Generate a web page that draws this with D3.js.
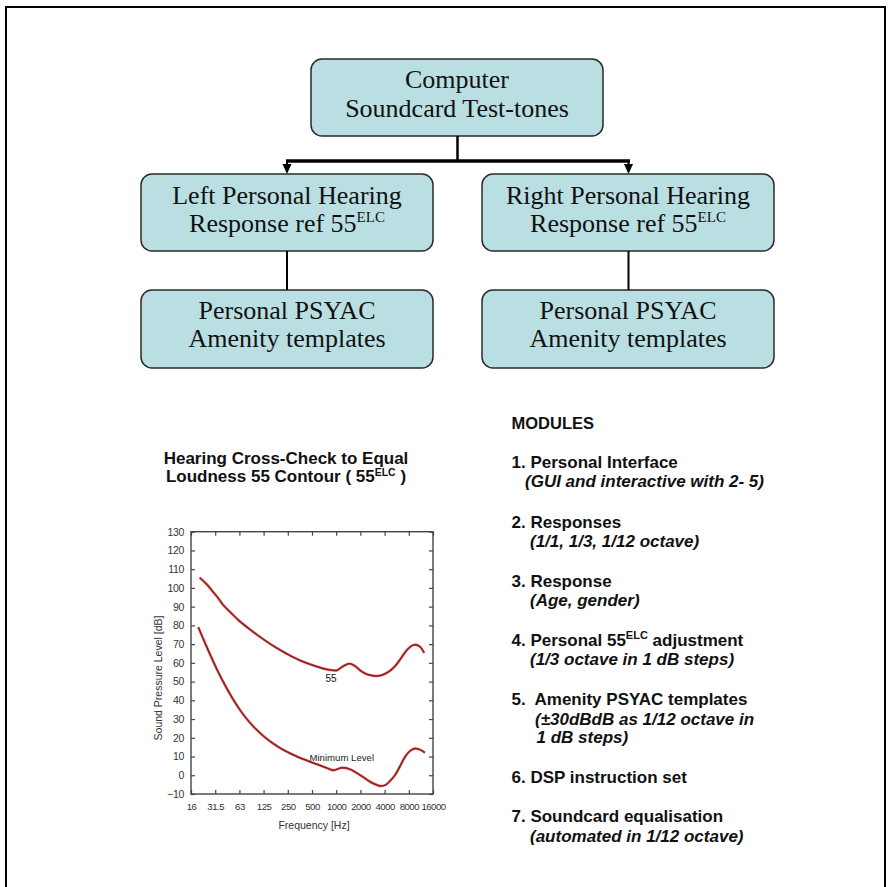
<!DOCTYPE html>
<html><head><meta charset="utf-8">
<script src="https://cdn.jsdelivr.net/npm/d3@7"></script>
<style>body{margin:0;background:#fff}svg{display:block}</style>
</head><body>
<script>
// ---------- data ----------
const topBoxLines = ["Computer", "Soundcard Test-tones"];
const midBoxLines = [["Left Personal Hearing", "Response ref 55"], ["Right Personal Hearing", "Response ref 55"]];
const midBoxSup = "ELC";
const lowBoxLines = ["Personal PSYAC", "Amenity templates"];

const chartTitle = ["Hearing Cross-Check to Equal", "Loudness 55 Contour ( 55", "ELC", " )"];
const yTicks = [130,120,110,100,90,80,70,60,50,40,30,20,10,0,-10];
const xTickHz = [16,32,64,128,256,512,1024,2048,4096,8192,16384];
const xTickLabels = ["16","31.5","63","125","250","500","1000","2000","4000","8000","16000"];
const xTitle = "Frequency [Hz]";
const yTitle = "Sound Pressure Level [dB]";

const contour55Hz = [20.5,25,30,35,40,50,63,90,125,180,250,350,500,700,942,1050,1250,1500,1750,2100,2500,3100,3800,4700,5600,6800,8000,9500,11000,12000,12700];
const contour55dB = [105.5,102,98,94.5,91,86.8,82.6,77.3,72.8,68.3,64.8,61.6,59,57,56,56,58.2,59.6,58.3,55.5,53.8,53,53.5,55.5,58.5,63.5,67.5,69.6,69,67.2,65.3];
const minLevelHz = [19.7,24,29,35,43,53,66,82,103,130,165,210,270,350,460,620,800,950,1200,1500,2000,2500,3000,3600,4200,4800,5600,6400,7400,8500,9800,11500,13000];
const minLevelDB = [79,70.5,62.5,55,47.6,40.8,34.5,29.2,24.6,20.6,17.2,14.3,11.8,9.6,7.6,5.5,3.7,2.7,4,3.3,0.3,-2.5,-4.5,-5.7,-5.2,-3,0.5,5,10,13,14.3,13.5,12];
const curveLabels = ["55", "Minimum Level"];

const modulesTitle = "MODULES";
const moduleHeads = [["1. Personal Interface"],["2. Responses"],["3. Response"],["4. Personal 55","ELC"," adjustment"],["5.  Amenity PSYAC templates"],["6. DSP instruction set"],["7. Soundcard equalisation"]];
const moduleNotes = [["(GUI and interactive with 2- 5)"],["(1/1, 1/3, 1/12 octave)"],["(Age, gender)"],["(1/3 octave in 1 dB steps)"],["(\u00B130dBdB as 1/12 octave in","1 dB steps)"],[],["(automated in 1/12 octave)"]];

// ---------- drawing ----------
const W = 894, H = 887;
const svg = d3.select("body").append("svg").attr("width", W).attr("height", H);
const serif = "'Liberation Serif','Times New Roman',serif";
const sans = "'Liberation Sans',Arial,sans-serif";

// outer frame
svg.append("path").attr("d", `M6,${H} V7 H885 V${H}`).attr("fill","none").attr("stroke","#000").attr("stroke-width",2);

// flow boxes
const boxFill = "#b9dfe3", boxStroke = "#2a2a2a";
function box(x, y, w, h) {
  svg.append("rect").attr("x",x).attr("y",y).attr("width",w).attr("height",h)
    .attr("rx",11).attr("fill",boxFill).attr("stroke",boxStroke).attr("stroke-width",1.5);
}
box(311, 59, 292, 77);
box(141, 174, 292, 77);
box(482, 174, 292, 77);
box(141, 290, 292, 78);
box(482, 290, 292, 78);

// connectors
svg.append("line").attr("x1",457.5).attr("x2",457.5).attr("y1",136).attr("y2",161).attr("stroke","#000").attr("stroke-width",2.5);
svg.append("line").attr("x1",286).attr("x2",630).attr("y1",161).attr("y2",161).attr("stroke","#000").attr("stroke-width",3.5);
[287, 628.5].forEach(cx => {
  svg.append("line").attr("x1",cx).attr("x2",cx).attr("y1",161).attr("y2",166).attr("stroke","#000").attr("stroke-width",2);
  svg.append("path").attr("d",`M${cx-4.5},164 L${cx+4.5},164 L${cx},174 Z`).attr("fill","#000");
  svg.append("line").attr("x1",cx).attr("x2",cx).attr("y1",251).attr("y2",290).attr("stroke","#000").attr("stroke-width",2);
});

function boxText(cx, y, str, sup) {
  const t = svg.append("text").attr("x",cx).attr("y",y).attr("text-anchor","middle")
    .attr("font-family",serif).attr("font-size",26).attr("fill","#111");
  t.append("tspan").text(str);
  if (sup) t.append("tspan").attr("font-size",15).attr("dy",-10).text(sup);
}
boxText(457, 88, topBoxLines[0]);
boxText(457, 117, topBoxLines[1]);
[287, 628].forEach((cx, i) => {
  boxText(cx, 203.5, midBoxLines[i][0]);
  boxText(cx, 232, midBoxLines[i][1], midBoxSup);
  boxText(cx, 318.5, lowBoxLines[0]);
  boxText(cx, 347, lowBoxLines[1]);
});

// chart title
svg.append("text").attr("x",286).attr("y",463.5).attr("text-anchor","middle")
  .attr("font-family",sans).attr("font-weight","bold").attr("font-size",17).attr("fill","#111").text(chartTitle[0]);
const t2 = svg.append("text").attr("x",286).attr("y",482).attr("text-anchor","middle")
  .attr("font-family",sans).attr("font-weight","bold").attr("font-size",17).attr("fill","#111");
t2.append("tspan").text(chartTitle[1]);
t2.append("tspan").attr("font-size",10.5).attr("dy",-6).text(chartTitle[2]);
t2.append("tspan").attr("dy",6).text(chartTitle[3]);

// plot
const pl = 191, pr = 433, pt = 531.7, pb = 794;
const x = d3.scaleLog().base(2).domain([16, 16384]).range([pl, pr]);
const y = d3.scaleLinear().domain([-10, 130]).range([pb, pt]);
const axisColor = "#444";
const g = svg.append("g");
function styleAxis(sel) {
  sel.select(".domain").remove();
  sel.selectAll("line").attr("stroke",axisColor).attr("stroke-width",1.2);
  sel.selectAll("text").attr("font-family",sans).attr("font-size",10.5).attr("fill","#333");
}
g.append("g").attr("transform",`translate(${pl},0)`)
  .call(d3.axisLeft(y).tickValues(yTicks).tickSize(-4).tickPadding(7).tickFormat(d3.format("d")))
  .call(styleAxis)
  .selectAll("text").attr("letter-spacing",-0.3);
g.append("g").attr("transform",`translate(${pr},0)`)
  .call(d3.axisRight(y).tickValues(yTicks).tickSize(-4).tickFormat(""))
  .call(styleAxis);
g.append("g").attr("transform",`translate(0,${pb})`)
  .call(d3.axisBottom(x).tickValues(xTickHz).tickSize(-4).tickPadding(9).tickFormat((d,i)=>xTickLabels[i]))
  .call(styleAxis)
  .selectAll("text").attr("font-size",9.6).attr("letter-spacing",-0.5);
g.append("g").attr("transform",`translate(0,${pt})`)
  .call(d3.axisTop(x).tickValues(xTickHz).tickSize(-4).tickFormat(""))
  .call(styleAxis);
g.append("rect").attr("x",pl).attr("y",pt).attr("width",pr-pl).attr("height",pb-pt)
  .attr("fill","none").attr("stroke",axisColor).attr("stroke-width",1.4);

svg.append("text").attr("x",(pl+pr)/2+2).attr("y",828.5).attr("text-anchor","middle")
  .attr("font-family",sans).attr("font-size",10.5).attr("fill","#333").text(xTitle);
svg.append("text").attr("transform","translate(162,678) rotate(-90)").attr("text-anchor","middle")
  .attr("font-family",sans).attr("font-size",10.5).attr("fill","#333").text(yTitle);

const line = d3.line().x(d=>x(d[0])).y(d=>y(d[1])).curve(d3.curveCatmullRom.alpha(0.5));
[[contour55Hz, contour55dB],[minLevelHz, minLevelDB]].forEach(([hz, db]) => {
  const pts = hz.map((h,i)=>[h, db[i]]);
  svg.append("path").attr("d",line(pts)).attr("fill","none").attr("stroke","#d43c3c").attr("stroke-width",2.4);
  svg.append("path").attr("d",line(pts)).attr("fill","none").attr("stroke","#5e1f1f").attr("stroke-width",0.9);
});
svg.append("text").attr("x",331).attr("y",681.5).attr("text-anchor","middle")
  .attr("font-family",sans).attr("font-size",10).attr("fill","#111").text(curveLabels[0]);
svg.append("text").attr("x",309.5).attr("y",760.5)
  .attr("font-family",sans).attr("font-size",9.6).attr("fill","#222").text(curveLabels[1]);

// modules list
const mf = {family: sans, size: 17};
svg.append("text").attr("x",511.5).attr("y",428.5).attr("font-family",sans).attr("font-weight","bold")
  .attr("font-size",16.5).attr("fill","#111").text(modulesTitle);
const headY = [468.3, 527.7, 586.7, 645.7, 705, 783.3, 822.3];
const noteLayout = [[[525,487.3]],[[530,546.7]],[[530,605.7]],[[530,665]],[[535,725],[536.5,743.3]],[],[[530,841.7]]];
moduleHeads.forEach((parts, i) => {
  const t = svg.append("text").attr("x",511.5).attr("y",headY[i]).attr("font-family",sans)
    .attr("font-weight","bold").attr("font-size",mf.size).attr("fill","#111").style("white-space","pre");
  t.append("tspan").text(parts[0]);
  if (parts.length > 1) {
    t.append("tspan").attr("font-size",11).attr("dy",-7).text(parts[1]);
    t.append("tspan").attr("dy",7).text(parts[2]);
  }
  moduleNotes[i].forEach((s, j) => {
    svg.append("text").attr("x",noteLayout[i][j][0]).attr("y",noteLayout[i][j][1]).attr("font-family",sans)
      .attr("font-weight","bold").attr("font-style","italic").attr("font-size",mf.size).attr("fill","#111").text(s);
  });
});
</script>
</body></html>
